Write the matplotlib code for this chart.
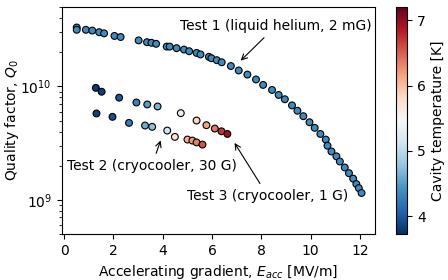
import numpy as np
import matplotlib
matplotlib.use("Agg")
import matplotlib.pyplot as plt
from matplotlib.colors import Normalize

# Test 1 (liquid helium, 2 mG)
t1_E = [0.51, 0.51, 0.88, 1.14, 1.42, 1.62, 2.04, 2.29, 3.02, 3.36, 3.54, 3.73,
        4.16, 4.28, 4.56, 4.86, 5.07, 5.37, 5.53, 5.87, 5.97, 6.19, 6.39, 6.76,
        7.08, 7.43, 7.78, 8.07, 8.43, 8.70, 8.95, 9.24, 9.46, 9.70, 9.95, 10.16,
        10.39, 10.61, 10.68, 10.84, 11.04, 11.18, 11.38, 11.55, 11.72, 11.85,
        11.95, 12.06]
t1_Q = [3.3e10, 3.15e10, 3.15e10, 3.1e10, 3.0e10, 2.93e10, 2.78e10, 2.72e10,
        2.54e10, 2.45e10, 2.42e10, 2.37e10, 2.24e10, 2.24e10, 2.17e10, 2.11e10,
        2.04e10, 1.97e10, 1.91e10, 1.82e10, 1.77e10, 1.70e10, 1.63e10, 1.51e10,
        1.38e10, 1.27e10, 1.15e10, 1.03e10, 9.3e9, 8.4e9, 7.7e9, 6.8e9, 6.1e9,
        5.46e9, 4.83e9, 4.31e9, 3.81e9, 3.40e9, 3.0e9, 2.67e9, 2.42e9, 2.18e9,
        1.93e9, 1.72e9, 1.54e9, 1.38e9, 1.27e9, 1.15e9]
t1_T = [4.38] * len(t1_E)

# Test 2 (cryocooler, 30 G)
t2_E = [1.31, 1.96, 2.63, 3.28, 3.57, 4.18, 4.49, 5.00, 5.20, 5.37, 5.61]
t2_Q = [5.77e9, 5.39e9, 4.77e9, 4.52e9, 4.40e9, 4.08e9, 3.59e9, 3.40e9,
        3.33e9, 3.21e9, 3.07e9]
t2_T = [3.85, 3.95, 4.25, 4.6, 4.75, 5.15, 5.75, 6.1, 6.2, 6.35, 6.55]

# Test 3 (cryocooler, 1 G)
t3_E = [1.285, 1.52, 2.23, 2.93, 3.37, 3.79, 4.73, 5.37, 5.77, 6.11, 6.38, 6.62]
t3_Q = [9.7e9, 8.97e9, 7.95e9, 7.21e9, 6.93e9, 6.65e9, 5.81e9, 5.0e9, 4.55e9,
        4.25e9, 4.02e9, 3.81e9]
t3_T = [3.8, 3.85, 4.0, 4.3, 4.5, 4.65, 5.3, 5.85, 6.15, 6.4, 6.7, 6.95]

cbar_ticks = [4, 5, 6, 7]

fig = plt.figure(figsize=(4.48, 2.8), dpi=100)
ax = fig.add_axes([0.1377, 0.164, 0.699, 0.811])
cax = fig.add_axes([0.884, 0.164, 0.025, 0.811])

norm = Normalize(vmin=3.73, vmax=7.2)
cmap = plt.get_cmap("RdBu_r")
kw = dict(cmap=cmap, norm=norm, s=24, edgecolors="black", linewidths=0.8, zorder=3)
sc = ax.scatter(t1_E, t1_Q, c=t1_T, **kw)
ax.scatter(t2_E, t2_Q, c=t2_T, **kw)
ax.scatter(t3_E, t3_Q, c=t3_T, **kw)

ax.set_yscale("log")
ax.set_xlim(-0.1, 12.6)
ax.set_ylim(5e8, 5e10)
ax.set_xticks([0, 2, 4, 6, 8, 10, 12])
ax.set_xlabel("Accelerating gradient, $E_{acc}$ [MV/m]", fontsize=10)
ax.set_ylabel("Quality factor, $Q_0$", fontsize=10)
ax.yaxis.set_label_coords(-0.13, 0.5)
ax.tick_params(labelsize=10)

ap = dict(arrowstyle="->", color="black", lw=0.8)
ax.annotate("Test 1 (liquid helium, 2 mG)", xy=(7.08, 1.62e10), xytext=(8.59, 3.4e10),
            ha="center", va="center", fontsize=10, arrowprops=ap)
ax.annotate("Test 2 (cryocooler, 30 G)", xy=(3.95, 3.52e9), xytext=(3.555, 2.0e9),
            ha="center", va="center", fontsize=10, arrowprops=ap)
ax.annotate("Test 3 (cryocooler, 1 G)", xy=(6.85, 3.33e9), xytext=(8.25, 1.09e9),
            ha="center", va="center", fontsize=10, arrowprops=ap)

cb = fig.colorbar(sc, cax=cax, ticks=cbar_ticks)
cb.set_label("Cavity temperature [K]", fontsize=10)
cb.ax.tick_params(labelsize=10)

fig.savefig("out.png", dpi=100)
